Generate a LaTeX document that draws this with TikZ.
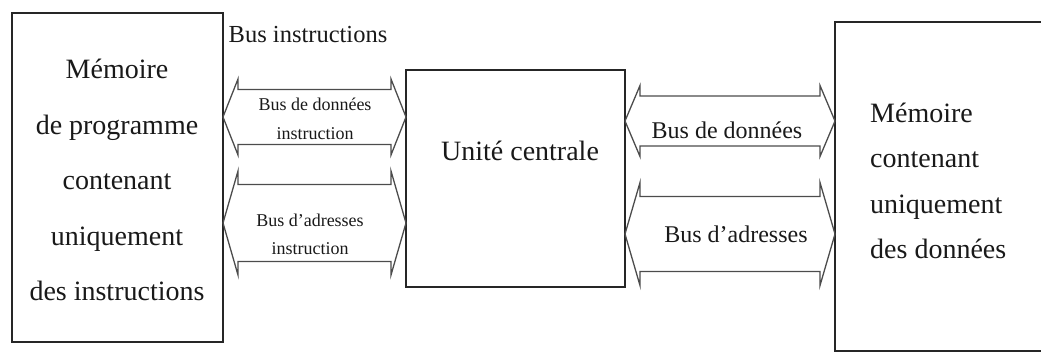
\documentclass[tikz,border=0pt]{standalone}
\usepackage{fontspec}
\setmainfont{Liberation Serif}
\usetikzlibrary{calc}
\tikzset{
  box/.style={draw=black!85, line width=1.7pt, outer sep=0pt, inner sep=0pt, anchor=north west},
  busline/.style={draw=black!70, line width=1.3pt, line join=miter},
  lbl/.style={text=black!90, inner sep=0pt},
}
\newcommand\busarrow[5]{%
  \path (#1.east |- 0,#3) coordinate (L) (#2.west |- 0,#3) coordinate (R);
  \draw[busline] (L) -- ($(L)+(15,-#5)$) -- ($(L)+(15,-#4)$) -- ($(R)+(-15,-#4)$)
    -- ($(R)+(-15,-#5)$) -- (R) -- ($(R)+(-15,#5)$) -- ($(R)+(-15,#4)$)
    -- ($(L)+(15,#4)$) -- ($(L)+(15,#5)$) -- cycle;}
\begin{document}
\begin{tikzpicture}[x=1pt,y=-1pt]
\useasboundingbox (0,0) rectangle (1041,354);
\node[box, minimum width=211pt, minimum height=329pt] (prog) at (12,13) {};
\node[box, minimum width=219pt, minimum height=217pt] (cpu) at (406,70) {};
\begin{scope}
  \clip (0,0) rectangle (1041,354);
  \node[box, minimum width=215pt, minimum height=329pt] (data) at (835,22) {};
\end{scope}

\node[lbl, anchor=north, align=center, font=\fontsize{28}{55.5}\selectfont] (progtxt) at (117,59)
  {Mémoire\\de programme\\contenant\\uniquement\\des instructions};
\node[lbl, anchor=base, font=\fontsize{28}{34}\selectfont] (cputxt) at (520,160) {Unité centrale};
\node[lbl, anchor=north west, align=left, font=\fontsize{28}{45.3}\selectfont] (datatxt) at (870,103)
  {Mémoire\\contenant\\uniquement\\des données};

\node[lbl, anchor=base, font=\fontsize{24.5}{30}\selectfont] (businstr) at (308,42) {Bus instructions};

\busarrow{prog}{cpu}{117}{27.5}{38}
\busarrow{prog}{cpu}{223}{38.5}{52}
\busarrow{cpu}{data}{121}{25}{35.5}
\busarrow{cpu}{data}{234}{37.5}{51.5}

\node[lbl, anchor=north, align=center, font=\fontsize{18}{29}\selectfont] (bdi) at (315,97.5)
  {Bus de données\\instruction};
\node[lbl, anchor=north, align=center, font=\fontsize{18}{28}\selectfont] (bai) at (310,213.5)
  {Bus d'adresses\\instruction};
\node[lbl, anchor=base, font=\fontsize{24}{30}\selectfont] (bd) at (727,138) {Bus de données};
\node[lbl, anchor=base, font=\fontsize{24}{30}\selectfont] (ba) at (736,242) {Bus d'adresses};
\end{tikzpicture}
\end{document}
